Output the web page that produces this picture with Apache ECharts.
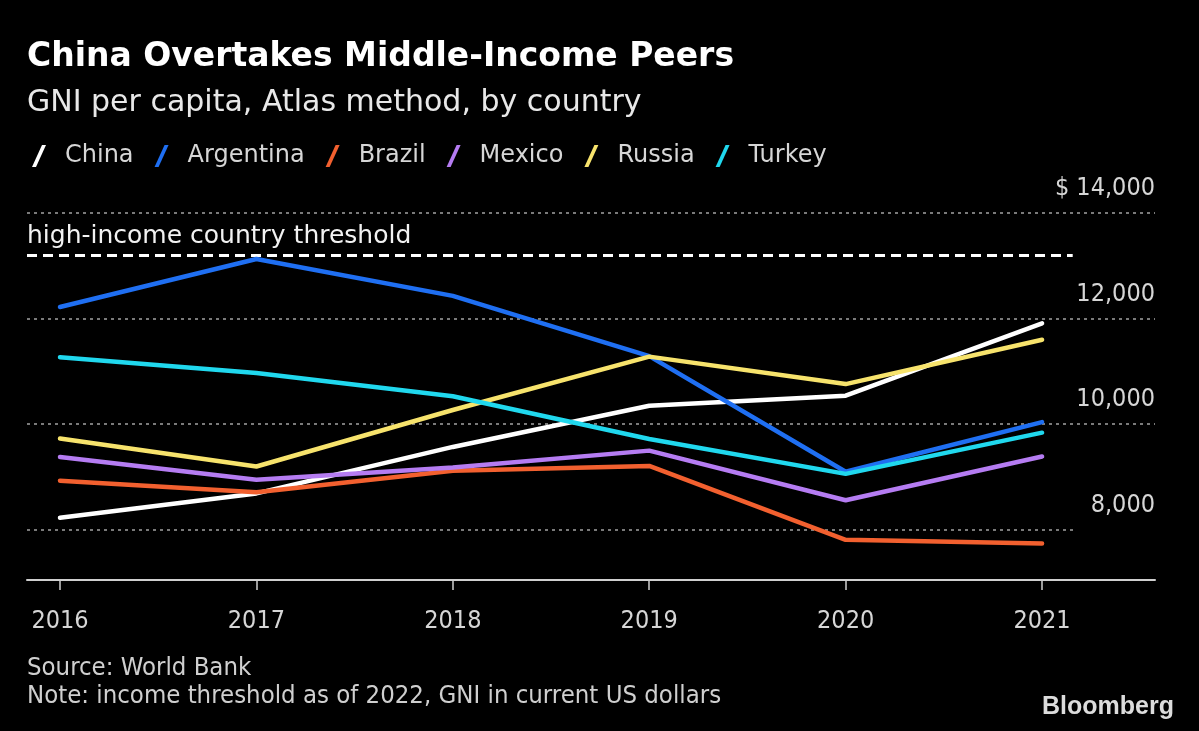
<!DOCTYPE html>
<html>
<head>
<meta charset="utf-8">
<script src="https://cdn.jsdelivr.net/npm/echarts@6/dist/echarts.min.js"></script>
<style>
html,body{margin:0;padding:0;background:#000;}
#chart{width:1199px;height:731px;}
</style>
</head>
<body>
<div id="chart"></div>
<script>
const years = [2016, 2017, 2018, 2019, 2020, 2021];
const seriesNames = ['China', 'Argentina', 'Brazil', 'Mexico', 'Russia', 'Turkey'];
const china     = [8230, 8690, 9570, 10350, 10540, 11910];
const argentina = [12220, 13130, 12430, 11290, 9100, 10040];
const brazil    = [8930, 8710, 9120, 9210, 7810, 7740];
const mexico    = [9380, 8950, 9180, 9500, 8560, 9390];
const russia    = [9730, 9200, 10270, 11280, 10760, 11600];
const turkey    = [11270, 10970, 10530, 9720, 9060, 9840];
const yTickValues = [8000, 10000, 12000, 14000];
const threshold = 13205;
const thresholdLabel = 'high-income country threshold';

const colors = ['#ffffff', '#1f6ff2', '#f2602f', '#b57cf2', '#f7e36c', '#20d8ee'];
const allData = [china, argentina, brazil, mexico, russia, turkey];

const FONT = '"DejaVu Sans Condensed", "DejaVu Sans", sans-serif';
const FONT_N = '"DejaVu Sans", sans-serif';
const xMin = 2015.832, xMax = 2021.575, xShortEnd = 2021.16;

const chart = echarts.init(document.getElementById('chart'));

const lineSeries = seriesNames.map((name, i) => ({
  name: name,
  type: 'line',
  data: years.map((y, j) => [y, allData[i][j]]),
  showSymbol: false,
  symbol: 'none',
  lineStyle: { width: 4.5, color: colors[i], cap: 'round', join: 'round' },
  itemStyle: { color: colors[i] },
  emphasis: { disabled: true },
  z: 5 + i
}));

const gridLines = yTickValues.map(v => [
  { coord: [xMin, v] },
  { coord: [v === 8000 ? xShortEnd : xMax, v] }
]);

const refSeries = {
  name: '_ref',
  type: 'line',
  data: [],
  silent: true,
  z: 1,
  markLine: {
    silent: true,
    symbol: ['none', 'none'],
    animation: false,
    label: { show: false },
    lineStyle: { color: '#7a7a7a', width: 2, type: [3, 4] },
    data: gridLines.concat([[
      { coord: [xMin, threshold], lineStyle: { color: '#ffffff', width: 3, type: [10, 6] } },
      { coord: [xShortEnd - 0.004, threshold] }
    ]])
  }
};

chart.setOption({
  backgroundColor: '#000000',
  animation: false,
  textStyle: { fontFamily: FONT },
  grid: { left: 27, right: 44, top: 213, bottom: 151, containLabel: false },
  legend: {
    data: seriesNames,
    left: 27,
    top: 139,
    itemWidth: 14,
    itemHeight: 22,
    itemGap: 21,
    icon: 'path://M0,22 L10,0 L14,0 L4,22 Z',
    selectedMode: false,
    textStyle: { color: '#d6d6d6', fontSize: 24, fontFamily: FONT_N, padding: [0, 0, 0, 14] }
  },
  xAxis: {
    type: 'value',
    min: xMin,
    max: xMax,
    splitLine: { show: false },
    axisLine: { show: true, lineStyle: { color: '#cfcfcf', width: 2 } },
    axisTick: { show: true, customValues: years, length: 10, lineStyle: { color: '#cfcfcf', width: 1.5 } },
    axisLabel: {
      customValues: years,
      formatter: v => String(v),
      color: '#d6d6d6',
      fontSize: 25,
      fontFamily: FONT,
      margin: 29
    }
  },
  yAxis: {
    type: 'value',
    position: 'right',
    min: 7050,
    max: 14000,
    splitLine: { show: false },
    axisLine: { show: false },
    axisTick: { show: false },
    axisLabel: {
      inside: true,
      customValues: yTickValues,
      align: 'right',
      verticalAlign: 'bottom',
      margin: 0,
      padding: [0, 0, 12, 0],
      color: '#d6d6d6',
      fontSize: 25,
      fontFamily: FONT,
      formatter: v => (v === 14000 ? '$ ' : '') + v.toLocaleString('en-US')
    }
  },
  graphic: [
    { type: 'text', left: 27, top: 41, style: { text: 'China Overtakes Middle-Income Peers', fill: '#ffffff', font: 'bold 33px "DejaVu Sans", sans-serif' } },
    { type: 'text', left: 27, top: 88, style: { text: 'GNI per capita, Atlas method, by country', fill: '#e8e8e8', font: '30px "DejaVu Sans", sans-serif' } },
    { type: 'text', left: 27, top: 224, style: { text: thresholdLabel, fill: '#f2f2f2', font: '25px "DejaVu Sans", sans-serif' } },
    { type: 'text', left: 27, top: 655, style: { text: 'Source: World Bank', fill: '#cfcfcf', font: '25.5px "DejaVu Sans Condensed", "DejaVu Sans", sans-serif' } },
    { type: 'text', left: 27, top: 683, style: { text: 'Note: income threshold as of 2022, GNI in current US dollars', fill: '#cfcfcf', font: '25.5px "DejaVu Sans Condensed", "DejaVu Sans", sans-serif' } },
    { type: 'text', right: 25, top: 695, style: { text: 'Bloomberg', fill: '#dcdcdc', font: 'bold 25px "Liberation Sans Narrow", "Liberation Sans", sans-serif' } }
  ],
  series: [refSeries].concat(lineSeries)
});
</script>
</body>
</html>
